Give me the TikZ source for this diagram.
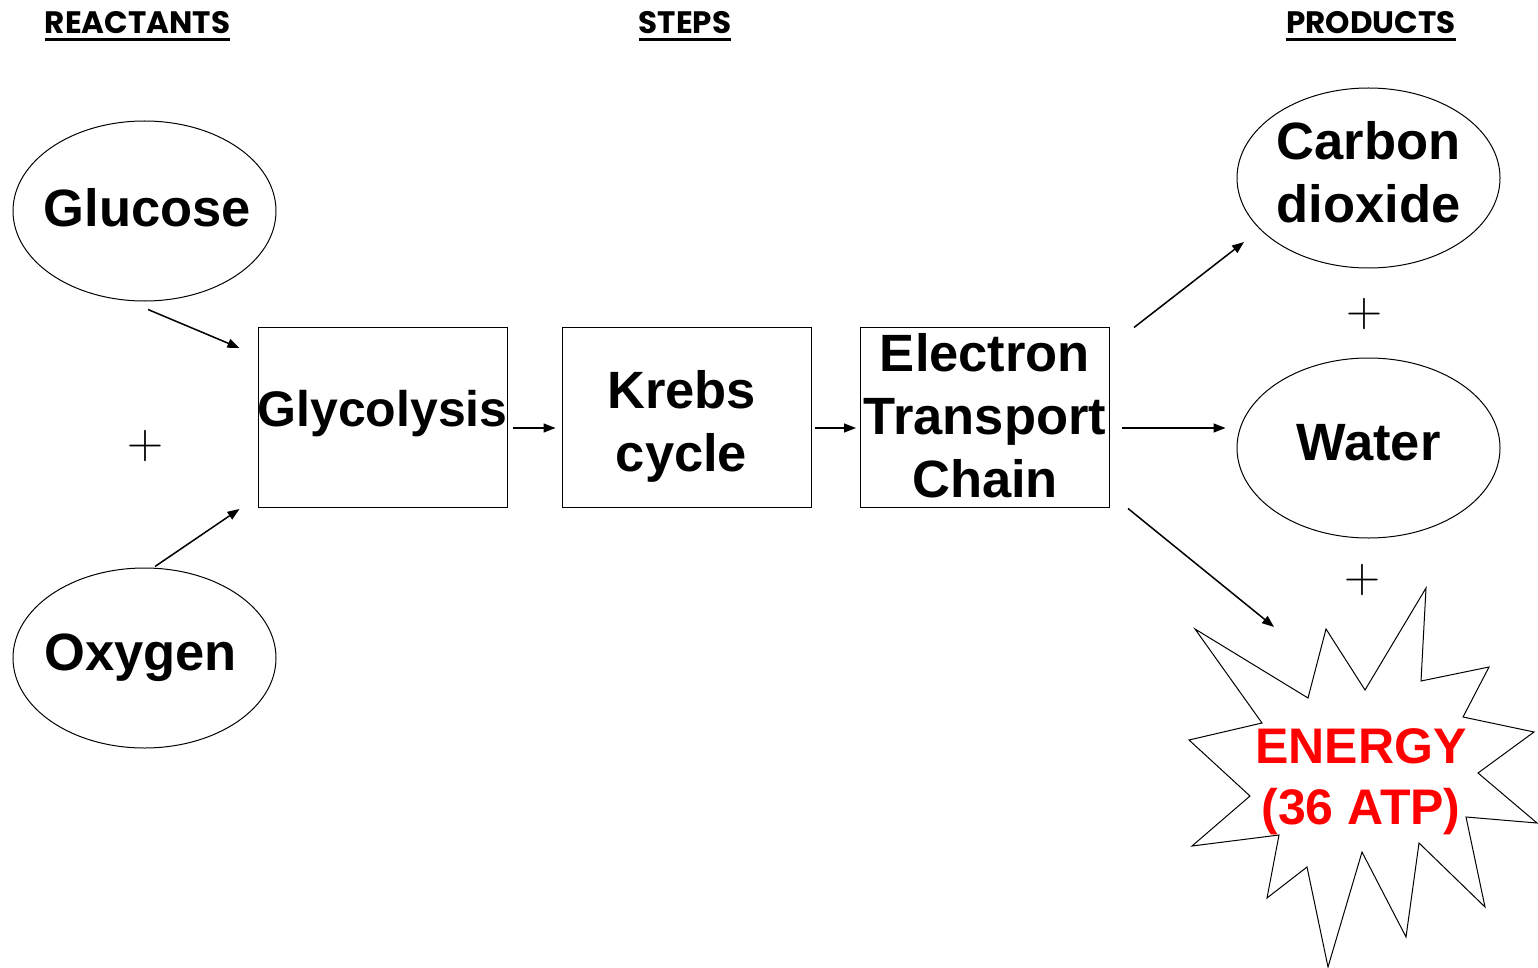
\documentclass[tikz,border=0pt]{standalone}
\usepackage{fontspec}
\setmainfont{Liberation Sans}
\newfontfamily\hdrfont{Poppins}
\newfontfamily\lmfont{Latin Modern Roman}
\usetikzlibrary{shapes.geometric,arrows.meta,calc}
\begin{document}
\begin{tikzpicture}[x=1pt,y=-1pt,
  big/.style={font=\fontsize{52.5}{63}\selectfont\bfseries, align=center, inner sep=0pt},
  mid/.style={font=\fontsize{50}{61}\selectfont\bfseries, align=center, inner sep=0pt},
  oval/.style={ellipse, draw, line width=1pt, minimum width=263pt, minimum height=180pt, inner sep=0pt},
  stepbox/.style={draw, line width=1pt, minimum width=249pt, minimum height=180pt, inner sep=0pt},
  arr/.style={line width=1.5pt, -{Triangle[length=12pt,width=9pt]}},
  hdr/.style={font=\hdrfont\fontsize{31}{40}\selectfont\bfseries, inner sep=0pt, anchor=base},
  plus/.style={font=\lmfont\fontsize{50}{50}\selectfont, inner sep=0pt}
]
\useasboundingbox (0,0) rectangle (1538,968);
% headers
\node[hdr] (hr) at (137.5,34) {REACTANTS};
\node[hdr] (hs) at (685,34) {STEPS};
\node[hdr] (hp) at (1371,34) {PRODUCTS};
\foreach \h in {hr,hs,hp}
  \draw[line width=3pt] ($(\h.base west)+(0,6)$) -- ($(\h.base east)+(0,6)$);
% nodes
\node[oval, label={[big,xshift=3pt,yshift=3pt]center:Glucose}] (glucose) at (144.5,211) {};
\node[oval, label={[big,xshift=-4pt]center:Oxygen}] (oxygen) at (144.5,658) {};
\node[stepbox, label={[mid,yshift=3pt]center:Glycolysis}] (glyco) at (382.5,417) {};
\node[stepbox, label={[big,xshift=-5pt,yshift=-9pt]center:Krebs\\cycle}] (krebs) at (686.5,417) {};
\node[stepbox, label={[big,yshift=1pt]center:Electron\\Transport\\Chain}] (etc) at (985,417) {};
\node[oval, label={[big,yshift=6pt]center:Carbon\\dioxide}] (co2) at (1368.5,178) {};
\node[oval, label={[big,yshift=5pt]center:Water}] (water) at (1368.5,448) {};
% starburst
\draw[line width=1pt] (1195,629) -- (1308,698) -- (1326,629) -- (1365,690) -- (1426,588) -- (1421,681)
  -- (1489,667) -- (1463,717) -- (1534,732) -- (1478,773) -- (1537,823) -- (1466,817)
  -- (1485,907) -- (1419,843) -- (1406,937) -- (1362,852) -- (1328,967) -- (1307,867)
  -- (1267,898) -- (1279,835) -- (1192,846) -- (1250,796) -- (1189,740) -- (1262,723) -- cycle;
\node[mid, text=red] (energy) at (1361,782) {ENERGY\\(36 ATP)};
\coordinate (burst) at (1274,627);
% plus signs
\node[plus] (p1) at (145,446) {+};
\node[plus] (p2) at (1364,314) {+};
\node[plus] (p3) at (1362,580) {+};
% arrows
\draw[arr] ($(glucose.south)+(3.5,8)$) -- ($(glyco.west)+(-18,-69)$);
\draw[arr] ($(oxygen.north)+(10.5,-1)$) -- ($(glyco.west)+(-18,92)$);
\draw[arr] ($(glyco.east)+(5,11)$) -- ($(krebs.west)+(-6,11)$);
\draw[arr] ($(krebs.east)+(3,11)$) -- ($(etc.west)+(-4,11)$);
\draw[arr] ($(etc.north east)+(24,1)$) -- ($(co2.center)+(-124.5,64)$);
\draw[arr] ($(etc.east)+(12,11)$) -- ($(water.west)+(-11,-20)$);
\draw[arr] ($(etc.south east)+(18,1)$) -- (burst);
\end{tikzpicture}
\end{document}
